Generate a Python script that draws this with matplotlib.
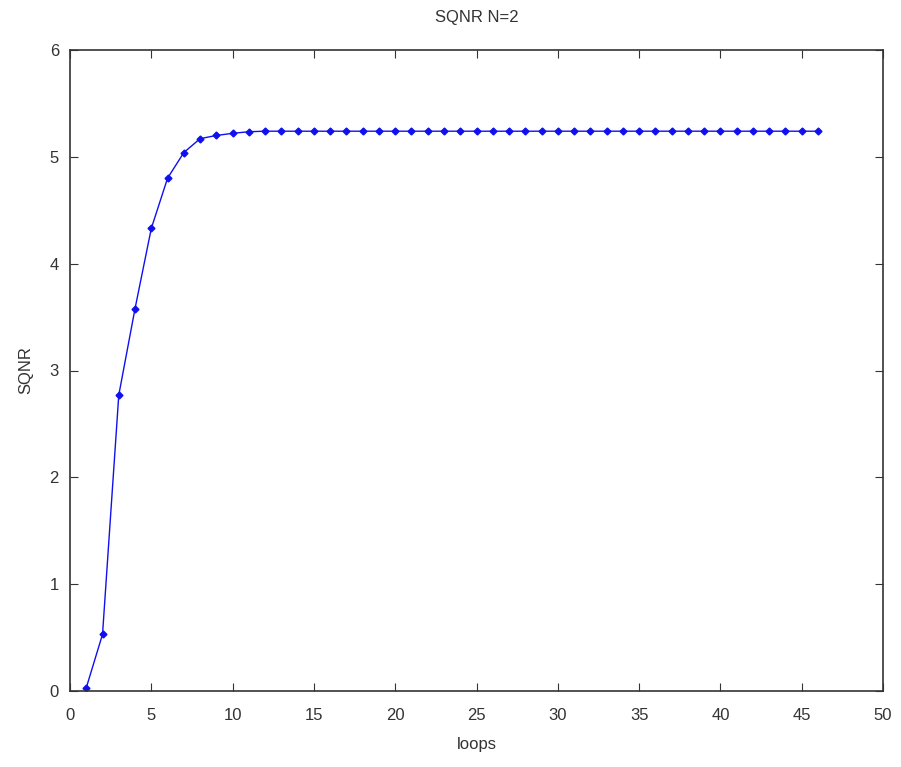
import matplotlib
matplotlib.use("Agg")
import matplotlib.pyplot as plt

loops = list(range(1, 47))
sqnr_head = [0.03, 0.53, 2.77, 3.58, 4.33, 4.80, 5.04, 5.17, 5.20, 5.22, 5.235]
sqnr_tail = [5.24] * (46 - len(sqnr_head))
sqnr = sqnr_head + sqnr_tail

xticks = [0, 5, 10, 15, 20, 25, 30, 35, 40, 45, 50]
yticks = [0, 1, 2, 3, 4, 5, 6]

plt.rcParams['font.family'] = ['Liberation Sans', 'DejaVu Sans']
fig = plt.figure(figsize=(9.01, 7.67), dpi=100)
ax = fig.add_axes([70/901, 1 - 691/767, (883-70)/901, (691-50)/767])
ax.plot(loops, sqnr, '-', color='#1010ee', marker='D', markersize=3.5, linewidth=1.0)
ax.set_xlim(0, 50)
ax.set_ylim(0, 6)
ax.set_xticks(xticks)
ax.set_yticks(yticks)
ax.tick_params(axis='both', direction='in', top=True, right=True, labelsize=12, length=6, colors='#333333')
ax.tick_params(axis='x', pad=12)
ax.tick_params(axis='y', pad=8)
for s in ax.spines.values():
    s.set_linewidth(1.2)
    s.set_color('#333333')
ax.set_title('SQNR N=2', fontsize=12, pad=20, color='#333333')
ax.set_xlabel('loops', fontsize=12, labelpad=10, color='#333333')
ax.set_ylabel('SQNR', fontsize=12, labelpad=12, color='#333333')
fig.savefig('out.png', dpi=100)
